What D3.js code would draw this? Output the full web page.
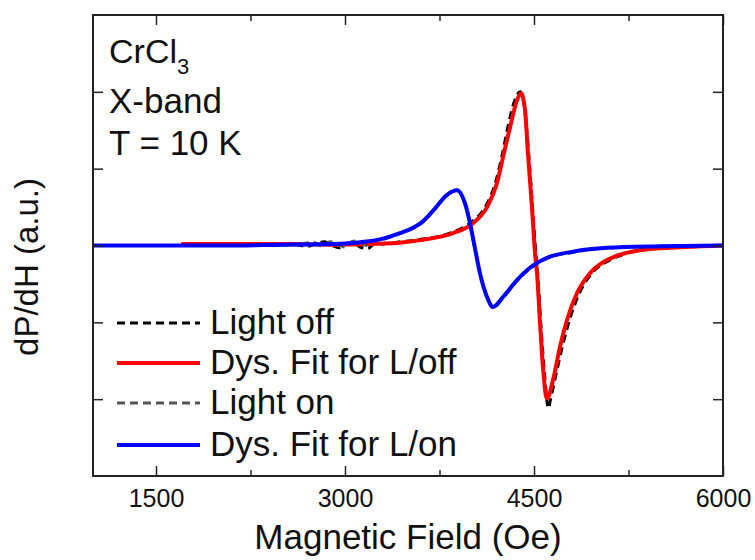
<!DOCTYPE html>
<html lang="en">
<head>
    <meta charset="UTF-8">
    <title>CrCl3 X-band EPR</title>
    <script src="https://cdnjs.cloudflare.com/ajax/libs/d3/7.8.4/d3.min.js"></script>
    <style>
        body { margin: 0; background: #fff; }
        svg { display: block; font-family: "Liberation Sans", Arial, sans-serif; }
    </style>
</head>
<body>
    <svg width="755" height="560"></svg>

    <script>
        // field (Oe) vs dP/dH (a.u.)
        const offData = [[2400,0],[2600,0.01],[2700,-0.01],[2780,0.03],[2840,0.05],[2900,0.0],[2950,-0.03],[3000,0.02],[3060,0.04],[3120,-0.02],[3180,-0.04],[3240,0.03],[3300,0.02],[3400,0.04],[3600,0.08],[3850,0.17],[4000,0.3],[4120,0.52],[4200,0.85],[4250,1.2],[4300,1.6],[4350,1.9],[4390,2.0],[4420,1.85],[4450,1.35],[4480,0.7],[4510,0.0],[4530,-0.4],[4555,-1.05],[4580,-1.6],[4615,-2.12],[4625,-2.05],[4665,-1.75],[4720,-1.35],[4780,-0.98],[4860,-0.62],[4960,-0.36],[5090,-0.2],[5200,-0.12],[5400,-0.05],[5700,-0.02],[6000,0]];

        const offFit = [[1700,0.02],[2200,0.02],[2600,0.02],[2900,0.01],[3200,0.02],[3450,0.04],[3600,0.07],[3857,0.16],[4016,0.29],[4127,0.5],[4206,0.81],[4254,1.15],[4310,1.54],[4365,1.89],[4397,1.98],[4429,1.76],[4452,1.2],[4484,0.5],[4508,-0.1],[4524,-0.36],[4548,-1.01],[4571,-1.58],[4603,-1.99],[4651,-1.75],[4706,-1.32],[4762,-0.97],[4841,-0.62],[4944,-0.36],[5079,-0.19],[5183,-0.12],[5400,-0.05],[5700,-0.02],[6000,0]];

        const onData = [[1000,0],[2000,0],[2600,0.01],[2750,0.04],[2820,-0.01],[2880,0.05],[2940,0.02],[3000,-0.02],[3050,0.05],[3110,0.06],[3170,0.0],[3230,0.06],[3300,0.08],[3440,0.16],[3600,0.28],[3700,0.45],[3810,0.66],[3885,0.73],[3950,0.56],[3990,0.3],[4030,-0.03],[4070,-0.35],[4125,-0.66],[4175,-0.81],[4255,-0.68],[4365,-0.46],[4470,-0.3],[4600,-0.17],[4810,-0.09],[5080,-0.03],[5500,-0.01],[6000,0]];

        const onFit = [[1000,0],[2000,0],[2500,0.01],[2900,0.02],[3100,0.04],[3278,0.08],[3437,0.16],[3540,0.23],[3600,0.29],[3698,0.45],[3810,0.66],[3889,0.72],[3952,0.55],[3992,0.29],[4032,-0.04],[4071,-0.36],[4127,-0.67],[4175,-0.8],[4254,-0.67],[4365,-0.45],[4468,-0.29],[4603,-0.16],[4809,-0.08],[5079,-0.03],[5500,-0.01],[6000,0]];

        const xMajor = [1500, 3000, 4500, 6000];
        const xMinor = [2250, 3750, 5250];
        const yMajor = [-2, -1, 0, 1, 2];

        const series = [
            { name: "Light off",          data: offData, color: "#000",    width: 3, dash: "8,5" },
            { name: "Dys. Fit for L/off", data: offFit,  color: "#ff0000", width: 4, dash: null },
            { name: "Light on",           data: onData,  color: "#555",    width: 3, dash: "8,5" },
            { name: "Dys. Fit for L/on",  data: onFit,   color: "#0000ff", width: 4, dash: null }
        ];

        const plotL = 93, plotR = 723, plotT = 15, plotB = 476;

        const svg = d3.select("svg");

        const x = d3.scaleLinear().domain([1000, 6000]).range([plotL, plotR]);
        const y = d3.scaleLinear().domain([-3, 3]).range([plotB, plotT]);

        svg.append("clipPath").attr("id", "plot")
            .append("rect")
            .attr("x", plotL).attr("y", plotT)
            .attr("width", plotR - plotL).attr("height", plotB - plotT);

        const line = d3.line()
            .x(d => x(d[0]))
            .y(d => y(d[1]))
            .curve(d3.curveMonotoneX);

        const g = svg.append("g").attr("clip-path", "url(#plot)");
        series.forEach(s => {
            g.append("path")
                .datum(s.data)
                .attr("d", line)
                .attr("fill", "none")
                .attr("stroke", s.color)
                .attr("stroke-width", s.width)
                .attr("stroke-dasharray", s.dash)
                .attr("stroke-linejoin", "round");
        });

        // axes: ticks point inward on all four sides
        function styleAxis(sel) {
            sel.selectAll("path").remove();
            sel.selectAll("line").attr("stroke", "#222").attr("stroke-width", 1.5);
        }

        const bottomAxis = svg.append("g")
            .attr("transform", `translate(0,${plotB})`)
            .call(d3.axisBottom(x).tickValues(xMajor).tickSizeInner(-10).tickPadding(13).tickFormat(d3.format("d")));
        styleAxis(bottomAxis);
        bottomAxis.selectAll("text")
            .attr("font-size", 25)
            .attr("fill", "#111")
            .attr("font-family", "Liberation Sans, Arial, sans-serif");

        svg.append("g")
            .attr("transform", `translate(0,${plotB})`)
            .call(d3.axisBottom(x).tickValues(xMinor).tickSizeInner(-6).tickFormat(""))
            .call(styleAxis);

        svg.append("g")
            .attr("transform", `translate(0,${plotT})`)
            .call(d3.axisTop(x).tickValues(xMajor).tickSizeInner(-10).tickFormat(""))
            .call(styleAxis);

        svg.append("g")
            .attr("transform", `translate(0,${plotT})`)
            .call(d3.axisTop(x).tickValues(xMinor).tickSizeInner(-6).tickFormat(""))
            .call(styleAxis);

        svg.append("g")
            .attr("transform", `translate(${plotL},0)`)
            .call(d3.axisLeft(y).tickValues(yMajor).tickSizeInner(-10).tickFormat(""))
            .call(styleAxis);

        svg.append("g")
            .attr("transform", `translate(${plotR},0)`)
            .call(d3.axisRight(y).tickValues(yMajor).tickSizeInner(-10).tickFormat(""))
            .call(styleAxis);

        svg.append("rect")
            .attr("x", plotL).attr("y", plotT)
            .attr("width", plotR - plotL).attr("height", plotB - plotT)
            .attr("fill", "none")
            .attr("stroke", "#222")
            .attr("stroke-width", 2);

        // axis titles
        svg.append("text")
            .attr("x", (plotL + plotR) / 2)
            .attr("y", 549)
            .attr("text-anchor", "middle")
            .attr("font-size", 35)
            .attr("fill", "#111")
            .text("Magnetic Field (Oe)");

        svg.append("text")
            .attr("transform", "translate(38,267) rotate(-90)")
            .attr("text-anchor", "middle")
            .attr("font-size", 33)
            .attr("fill", "#111")
            .text("dP/dH (a.u.)");

        // sample annotation
        const note = svg.append("g").attr("fill", "#111");
        const t1 = note.append("text").attr("x", 109).attr("y", 63).attr("font-size", 34);
        t1.append("tspan").text("CrCl");
        t1.append("tspan").attr("font-size", 22).attr("dy", 11).text("3");
        note.append("text").attr("x", 109).attr("y", 113).attr("font-size", 35).text("X-band");
        note.append("text").attr("x", 109).attr("y", 155).attr("font-size", 35).text("T = 10 K");

        // legend
        const legY = [323, 363, 403, 445];
        const legend = svg.append("g");
        series.forEach((s, i) => {
            legend.append("line")
                .attr("x1", 117).attr("x2", 200)
                .attr("y1", legY[i]).attr("y2", legY[i])
                .attr("stroke", s.color)
                .attr("stroke-width", s.width)
                .attr("stroke-dasharray", s.dash);
            legend.append("text")
                .attr("x", 210)
                .attr("y", legY[i] + 11)
                .attr("font-size", 35)
                .attr("fill", "#111")
                .text(s.name);
        });
    </script>
</body>
</html>
